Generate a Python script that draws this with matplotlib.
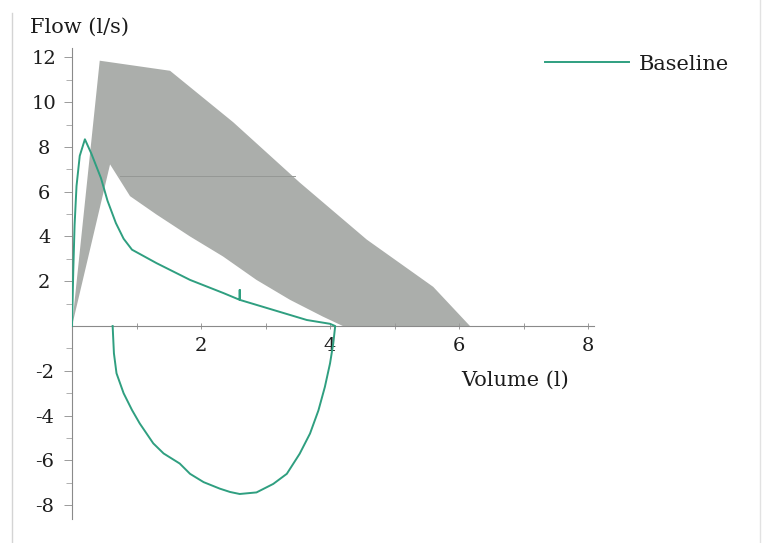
import matplotlib
matplotlib.use("Agg")
import matplotlib.pyplot as plt
from matplotlib.lines import Line2D

plt.rcParams['font.family'] = ['DejaVu Serif']
plt.rcParams['axes.unicode_minus'] = False

# predicted range (grey band): outer and inner curves
upper_vol = [0.0, 0.43, 1.52, 2.5, 3.53, 4.57, 5.6, 6.17]
upper_flow = [0.0, 11.85, 11.4, 9.1, 6.41, 3.86, 1.75, 0.0]
lower_vol = [0.0, 0.59, 0.90, 1.31, 1.83, 2.34, 2.86, 3.38, 3.89, 4.2]
lower_flow = [0.0, 7.22, 5.80, 4.98, 4.00, 3.11, 2.06, 1.17, 0.42, 0.0]

# reference line inside the band
ref_vol = [0.75, 3.45]
ref_flow = [6.7, 6.7]

# baseline loop: expiration then inspiration
base_vol = [0.0, 0.02, 0.04, 0.07, 0.12, 0.20, 0.30, 0.45, 0.55, 0.68, 0.80, 0.93,
            1.31, 1.83, 2.35, 2.60, 2.60, 2.60, 3.12, 3.64, 4.0, 4.08,
            4.05, 4.0, 3.92, 3.82, 3.69, 3.53, 3.33, 3.12, 2.86, 2.60, 2.45, 2.29,
            2.04, 1.83, 1.67, 1.42, 1.26, 1.05, 0.93, 0.80, 0.69, 0.65, 0.63]
base_flow = [0.0, 2.5, 4.5, 6.25, 7.6, 8.34, 7.7, 6.6, 5.6, 4.6, 3.9, 3.41,
             2.81, 2.06, 1.47, 1.17, 1.61, 1.17, 0.72, 0.27, 0.1, 0.0,
             -0.78, -1.67, -2.72, -3.77, -4.8, -5.7, -6.6, -7.05, -7.43, -7.5, -7.41, -7.26,
             -6.97, -6.6, -6.14, -5.69, -5.24, -4.35, -3.75, -3.0, -2.11, -1.22, 0.0]

xticks = [2, 4, 6, 8]
yticks = [-8, -6, -4, -2, 2, 4, 6, 8, 10, 12]

W, H = 764, 543
fig = plt.figure(figsize=(W / 100, H / 100), dpi=100)
ax = fig.add_axes([72 / W, 0.0449, 0.6839, 0.866])

band_x = upper_vol + lower_vol[::-1]
band_y = upper_flow + lower_flow[::-1]
ax.fill(band_x, band_y, color='#abaeab', lw=0, zorder=1)
ax.plot(ref_vol, ref_flow, color='#959895', lw=0.7, zorder=2)
ax.plot(base_vol, base_flow, color='#2f9f80', lw=1.4, zorder=3, label='Baseline')

ax.set_xlim(0, 8.1)
ax.set_ylim(-8.6, 12.4)

for s in ['top', 'right']:
    ax.spines[s].set_visible(False)
ax.spines['bottom'].set_position(('data', 0))
ax.spines['left'].set_position(('data', 0))
for s in ['bottom', 'left']:
    ax.spines[s].set_color('#8a8a8a')
    ax.spines[s].set_linewidth(0.8)

ax.set_xticks(xticks)
ax.set_xticks([1, 3, 5, 7], minor=True)
ax.set_yticks(yticks)
ax.set_yticks([-7, -5, -3, -1, 1, 3, 5, 7, 9, 11], minor=True)
ax.set_xticklabels([str(v) for v in xticks])
ax.set_yticklabels([str(v) for v in yticks])

ax.tick_params(axis='x', which='both', direction='inout', length=4, width=0.7,
               color='#9a9a9a', pad=6, labelsize=14, labelcolor='#1c1c1c')
ax.tick_params(axis='y', which='major', direction='out', length=6, width=0.7,
               color='#9a9a9a', pad=14, labelsize=14, labelcolor='#1c1c1c')
ax.tick_params(axis='y', which='minor', direction='out', length=4, width=0.7,
               color='#b0b0b0')
for lab in ax.get_yticklabels():
    lab.set_horizontalalignment('center')

fig.text(30 / W, 1 - 27 / H, 'Flow (l/s)', fontsize=15, color='#1c1c1c',
         ha='left', va='center')
fig.text(515 / W, 1 - 380 / H, 'Volume (l)', fontsize=15, color='#1c1c1c',
         ha='center', va='center')

fig.legend(loc='center right', bbox_to_anchor=(748 / W, 1 - 64 / H), frameon=False,
           fontsize=15, handlelength=4.0, handletextpad=0.5, labelcolor='#1c1c1c')

# faint frame lines of the scanned page
fig.add_artist(Line2D([12 / W, 12 / W], [0.0, 1 - 13 / H], color='#d4d4d4', lw=1))
fig.add_artist(Line2D([760 / W, 760 / W], [0.0, 1.0], color='#e2e2e2', lw=1))

fig.savefig('out.png', dpi=100)
